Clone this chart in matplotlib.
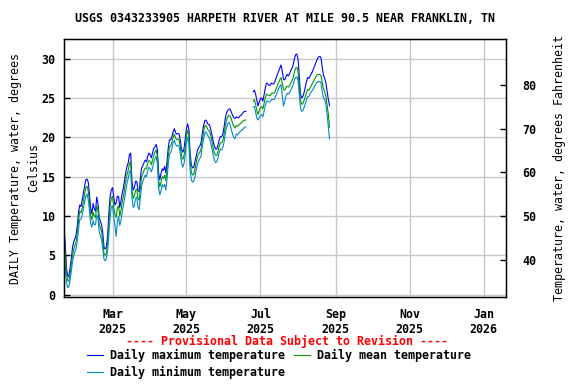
import numpy as np
import pandas as pd
import matplotlib
matplotlib.use('Agg')
import matplotlib.pyplot as plt
import matplotlib.dates as mdates

nan = np.nan

# daily values, 2025-01-20 .. 2025-08-28 (deg C), gap in late June
t_max = [8.4, 6.5, 3.5, 2.4, 2.3, 3.4, 4.5, 6.0, 6.7, 7.1, 7.6, 8.8,
         10.5, 11.4, 11.2, 12.0, 12.9, 13.8, 14.6, 14.7, 14.3, 12.8, 11.0, 10.3, 11.6, 10.9,
         10.6, 12.4, 11.6, 9.9, 9.3, 8.9, 7.8, 6.0, 5.8, 6.1, 7.6, 10.4, 12.4, 13.3,
         13.6, 12.5, 11.4, 11.6, 12.5, 12.5, 11.1, 11.9, 12.9, 13.6, 14.6, 15.6, 16.3, 16.8,
         17.8, 18.0, 14.5, 13.3, 13.6, 14.4, 14.4, 13.2, 13.1, 14.8, 16.1, 16.4, 16.8, 17.1,
         16.9, 17.6, 18.0,
         17.8, 17.4, 18.0, 18.6, 18.8, 19.1, 18.4, 15.5, 14.6, 15.4, 16.0, 15.8, 16.3, 15.5,
         17.0, 18.7, 19.7, 19.7, 20.1, 20.7, 21.1, 20.6, 20.4, 20.5, 20.4, 19.5, 18.4, 18.1,
         18.6, 19.8,
         21.2, 21.7, 21.0, 18.0, 16.5, 16.1, 16.2, 16.9, 17.6, 18.3, 18.7, 18.9, 19.3, 20.5,
         21.4, 22.1, 22.2, 21.9, 21.6, 21.6, 21.0, 20.3, 19.5, 18.9, 18.5, 18.5, 19.0, 19.7,
         20.1, 20.1, 20.4,
         21.3, 22.4, 23.1, 23.4, 23.6, 23.6, 23.2, 22.8, 22.5, 22.4, 22.6, 22.5, 22.5, 22.7,
         22.8, 23.0, 23.2, 23.3, 23.3, nan, nan, nan, nan, nan, 25.8, 26.0, 25.5, 24.7,
         24.0, 24.5,
         24.9, 25.0, 24.6, 25.4, 26.3, 26.9, 26.8, 26.6, 26.6, 26.9, 26.8, 26.8, 27.1, 27.6,
         28.0, 28.4, 28.8, 29.2, 28.4, 27.4, 27.3, 27.7, 28.0, 27.8, 28.1, 28.5, 28.8, 29.2,
         30.0, 30.5, 30.6,
         30.0, 27.8, 25.5, 25.0, 25.2, 25.7, 26.4, 27.1, 27.6, 27.5, 27.8, 28.1, 28.4, 28.8,
         29.2, 29.6, 30.0, 30.2, 30.3, 30.1, 28.8, 27.9, 27.5, 26.9, 25.8, 24.8, 24.0]

t_mean = [7.0, 5.5, 2.8, 1.8, 1.7, 2.6, 3.8, 5.0, 5.8, 6.3, 6.7, 7.9,
          9.5, 10.6, 10.4, 11.0, 11.9, 12.8, 13.6, 13.8, 13.2, 11.8, 10.1, 9.5, 10.5, 10.0,
          9.8, 11.3, 10.8, 9.0, 8.5, 8.0, 6.8, 5.2, 5.0, 5.3, 6.6, 9.0, 11.2, 12.3,
          12.5, 11.2, 10.2, 9.8, 11.0, 11.3, 10.0, 10.7, 11.8, 12.5, 13.5, 14.5, 15.3, 15.8,
          16.7, 16.9, 13.5, 12.2, 12.5, 13.3, 13.4, 12.2, 12.0, 13.6, 15.0, 15.4, 15.8, 16.1,
          16.0, 16.7, 17.1,
          16.9, 16.5, 17.1, 17.7, 18.1, 18.4, 17.6, 14.6, 13.7, 14.3, 15.0, 14.8, 15.2, 14.5,
          16.0, 17.7, 18.8, 18.9, 19.4, 20.0, 20.4, 19.9, 19.7, 19.8, 19.6, 18.7, 17.6, 17.2,
          17.7, 18.8,
          20.3, 20.9, 20.2, 17.0, 15.6, 15.2, 15.3, 16.0, 16.8, 17.5, 17.9, 18.1, 18.5, 19.7,
          20.6, 21.4, 21.5, 21.2, 20.9, 20.8, 20.2, 19.5, 18.7, 18.0, 17.7, 17.7, 18.2, 18.9,
          19.3, 19.3, 19.6,
          20.4, 21.4, 22.2, 22.6, 22.8, 22.7, 22.3, 21.8, 21.4, 21.2, 21.5, 21.4, 21.5, 21.7,
          21.8, 22.0, 22.1, 22.2, 22.2, nan, nan, nan, nan, nan, 24.6, 24.8, 24.2, 23.4,
          22.9, 23.4,
          23.8, 23.9, 23.6, 24.3, 25.0, 25.5, 25.4, 25.3, 25.3, 25.6, 25.6, 25.6, 25.8, 26.2,
          26.6, 27.0, 27.3, 27.6, 26.9, 26.1, 26.0, 26.3, 26.5, 26.4, 26.6, 26.9, 27.2, 27.6,
          28.3, 28.8, 28.9,
          28.4, 26.5, 24.7, 24.2, 24.3, 24.7, 25.2, 25.7, 26.1, 26.0, 26.3, 26.6, 26.9, 27.2,
          27.5, 27.8, 28.0, 28.0, 28.0, 27.8, 26.9, 26.2, 25.8, 25.2, 24.1, 22.9, 21.3]

t_min = [4.8, 3.8, 1.6, 0.9, 1.0, 1.8, 2.9, 4.1, 4.9, 5.5, 5.9, 6.9,
         8.4, 9.6, 9.6, 10.1, 11.0, 11.8, 12.5, 12.8, 12.1, 10.7, 9.0, 8.6, 9.4, 8.9,
         8.9, 10.1, 9.8, 8.0, 7.5, 7.0, 5.8, 4.5, 4.3, 4.6, 5.6, 7.7, 9.8, 11.2,
         11.3, 9.8, 8.8, 7.4, 9.2, 10.0, 8.8, 9.4, 10.6, 11.4, 12.3, 13.3, 14.2, 14.8,
         15.6, 15.8, 12.5, 11.1, 11.3, 12.2, 12.4, 11.1, 10.8, 12.4, 13.8, 14.4, 14.8, 15.2,
         15.0, 15.7, 16.2,
         16.0, 15.6, 16.1, 16.8, 17.3, 17.6, 16.7, 13.6, 12.7, 13.2, 14.0, 13.7, 14.0, 13.3,
         14.8, 16.6, 17.9, 18.0, 18.6, 19.3, 19.6, 19.1, 18.9, 19.0, 18.8, 17.8, 16.7, 16.2,
         16.7, 17.8,
         19.4, 20.0, 19.2, 15.9, 14.6, 14.3, 14.4, 15.0, 15.9, 16.6, 17.0, 17.3, 17.6, 18.8,
         19.7, 20.5, 20.7, 20.4, 20.1, 19.9, 19.3, 18.6, 17.8, 17.1, 16.8, 16.9, 17.4, 18.1,
         18.5, 18.4, 18.7,
         19.4, 20.4, 21.3, 21.7, 21.9, 21.6, 21.0, 20.4, 20.0, 19.8, 20.4, 20.3, 20.5, 20.7,
         20.8, 21.0, 21.1, 21.3, 21.3, nan, nan, nan, nan, nan, 23.9, 23.9, 23.2, 22.5,
         22.2, 22.5,
         22.8, 22.9, 22.6, 23.3, 24.0, 24.6, 24.6, 24.5, 24.5, 24.8, 24.8, 24.8, 25.0, 25.4,
         25.8, 26.2, 26.5, 26.7, 25.4, 24.0, 24.5, 25.2, 25.6, 25.5, 25.7, 26.0, 26.3, 26.7,
         27.3, 27.6, 27.7,
         27.2, 25.5, 23.8, 23.3, 23.4, 23.8, 24.3, 24.8, 25.2, 25.2, 25.5, 25.8, 26.0, 26.3,
         26.6, 26.9, 27.0, 27.1, 27.1, 26.9, 25.8, 25.0, 24.8, 24.2, 22.9, 21.4, 19.8]

dates = pd.date_range('2025-01-20', periods=len(t_max), freq='D')

title = 'USGS 0343233905 HARPETH RIVER AT MILE 90.5 NEAR FRANKLIN, TN'
c_max, c_mean, c_min = '#0000ff', '#009900', '#0088cc'

plt.rcParams['font.family'] = 'DejaVu Sans Mono'
plt.rcParams['font.weight'] = 'bold'
plt.rcParams['font.size'] = 8.4

fig = plt.figure(figsize=(5.76, 3.84), dpi=100)
ax = fig.add_axes([64/576, 1-297/384, 442/576, 258/384])

l1, = ax.plot(dates, t_max, color=c_max, lw=0.8, label='Daily maximum temperature')
l2, = ax.plot(dates, t_mean, color=c_mean, lw=0.8, label='Daily mean temperature')
l3, = ax.plot(dates, t_min, color=c_min, lw=0.8, label='Daily minimum temperature')

ax.set_xlim(pd.Timestamp('2025-01-20'), pd.Timestamp('2026-01-19 12:00'))
ax.set_ylim(-0.3, 32.5)
ax.set_yticks(range(0, 31, 5))
ax.xaxis.set_major_locator(mdates.MonthLocator(bymonth=[1, 3, 5, 7, 9, 11]))
ax.xaxis.set_major_formatter(mdates.DateFormatter('%b\n%Y'))
ax.grid(True, color='#c8c8c8', lw=1)
ax.set_axisbelow(True)
ax.tick_params(direction='in', length=4, width=1, pad=6)
ax.tick_params(axis='x', length=0, pad=8)
for s in ax.spines.values():
    s.set_linewidth(1.0)
ax.set_ylabel('DAILY Temperature, water, degrees\nCelsius', linespacing=1.5)
ax.yaxis.set_label_coords(-24/442, 0.5)

ax2 = ax.twinx()
lo, hi = ax.get_ylim()
ax2.set_ylim(lo * 9/5 + 32, hi * 9/5 + 32)
ax2.set_yticks(range(40, 81, 10))
ax2.tick_params(direction='in', length=4, width=1, pad=12)
ax2.set_ylabel('Temperature, water, degrees Fahrenheit', labelpad=12)

fig.text(ax.get_position().x0 + ax.get_position().width / 2, 1 - 19/384, title,
         ha='center', va='center')
fig.text(287/576, 1 - 341/384, '---- Provisional Data Subject to Revision ----',
         color='red', ha='center', va='center')
fig.legend(handles=[l1, l3, l2], ncol=2, frameon=False, loc='upper left',
           bbox_to_anchor=(87/576, 1 - 349/384), handlelength=1.4, handletextpad=0.6,
           columnspacing=0.7, labelspacing=0.35, borderaxespad=0, borderpad=0)

fig.savefig('out.png', dpi=100)
